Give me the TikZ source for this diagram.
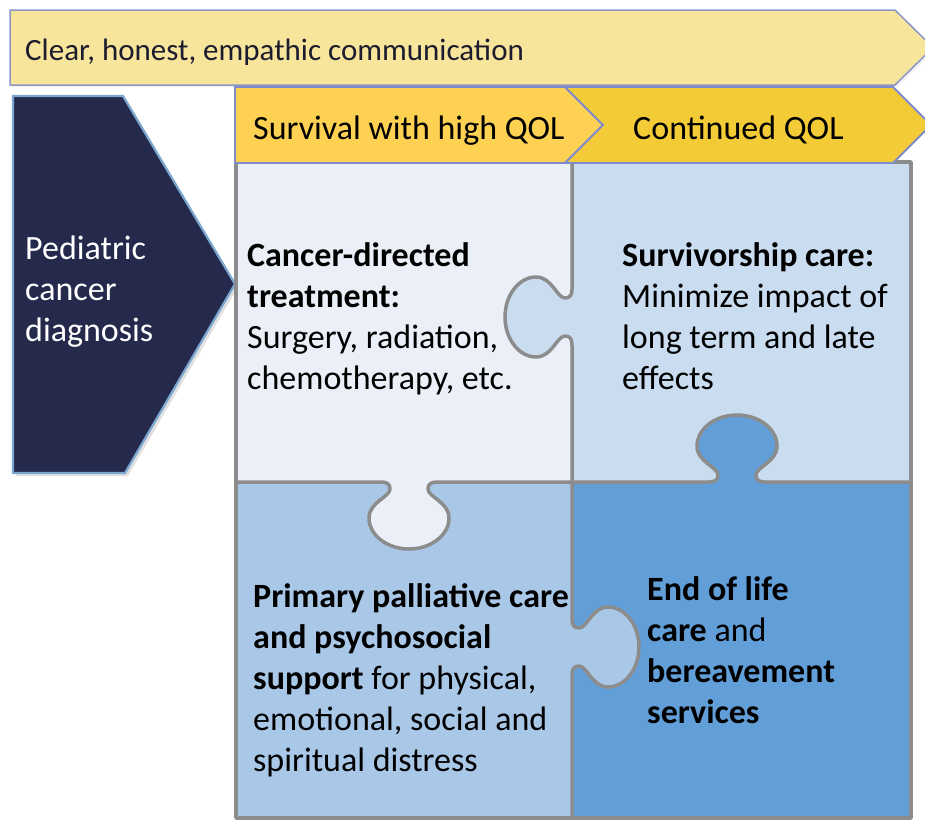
\documentclass[tikz,border=0pt]{standalone}
\usepackage{fontspec}
\setmainfont{Carlito}
\definecolor{bannerfill}{HTML}{F8E59C}
\definecolor{bannerline}{HTML}{8C96C8}
\definecolor{chevA}{HTML}{FFD152}
\definecolor{chevB}{HTML}{F2CB37}
\definecolor{chevline}{HTML}{7F8CCB}
\definecolor{darkfill}{HTML}{252A4D}
\definecolor{darkline}{HTML}{7AA6CF}
\definecolor{tlfill}{HTML}{EBF0F8}
\definecolor{trfill}{HTML}{C9DCF0}
\definecolor{blfill}{HTML}{A9C8E8}
\definecolor{brfill}{HTML}{629FD8}
\definecolor{gridgray}{HTML}{8C8C8C}
\definecolor{inktext}{HTML}{1C1C2E}
% knob on a horizontal edge (left to right): #1 centre x, #2 edge y, #3 outward sign
\newcommand{\hknob}[3]{%
 -- (#1-28,#2) .. controls (#1-22,#2) and (#1-19,#2+2*#3) .. (#1-19,#2+7*#3)
 .. controls (#1-19,#2+15*#3) and (#1-40,#2+20*#3) .. (#1-40,#2+36*#3)
 .. controls (#1-40,#2+53*#3) and (#1-22,#2+67*#3) .. (#1,#2+67*#3)
 .. controls (#1+22,#2+67*#3) and (#1+40,#2+53*#3) .. (#1+40,#2+36*#3)
 .. controls (#1+40,#2+20*#3) and (#1+19,#2+15*#3) .. (#1+19,#2+7*#3)
 .. controls (#1+19,#2+2*#3) and (#1+22,#2) .. (#1+28,#2)}
% knob on a vertical edge (top to bottom): #1 centre y, #2 edge x, #3 outward sign
\newcommand{\vknob}[3]{%
 -- (#2,#1-28) .. controls (#2,#1-22) and (#2+2*#3,#1-19) .. (#2+7*#3,#1-19)
 .. controls (#2+15*#3,#1-19) and (#2+20*#3,#1-40) .. (#2+36*#3,#1-40)
 .. controls (#2+53*#3,#1-40) and (#2+67*#3,#1-22) .. (#2+67*#3,#1)
 .. controls (#2+67*#3,#1+22) and (#2+53*#3,#1+40) .. (#2+36*#3,#1+40)
 .. controls (#2+20*#3,#1+40) and (#2+15*#3,#1+19) .. (#2+7*#3,#1+19)
 .. controls (#2+2*#3,#1+19) and (#2,#1+22) .. (#2,#1+28)}
\begin{document}
\begin{tikzpicture}[x=1pt,y=-1pt,
  txt/.style={inner sep=0pt,anchor=base west,text=black,font=\fontsize{34}{41}\selectfont},
  gridline/.style={draw=gridgray,line width=3.5pt,line join=round},
  chevst/.style={draw=chevline,line width=1.8pt,line join=miter}]
\useasboundingbox (0,0) rectangle (925,820);
\clip (0,0) rectangle (925,820);
\fill[white] (0,0) rectangle (925,820);

% top banner
\fill[black!25,opacity=0.2] (12,12) -- (897,12) -- (935,49.5) -- (897,87) -- (12,87) -- cycle;
\draw[fill=bannerfill,draw=bannerline,line width=1.5pt] (10,10) -- (895,10) -- (933,47.5) -- (895,85) -- (10,85) -- cycle;
\node[txt,text=inktext,font=\fontsize{31}{37}\selectfont] (banner) at (25,60) {Clear, honest, empathic communication};

% diagnosis pentagon
\fill[black!40,opacity=0.3] (16,99) -- (126,99) -- (238,287) -- (128,476) -- (16,476) -- cycle;
\draw[fill=darkfill,draw=darkline,line width=2.2pt] (13,96) -- (123,96) -- (235,284) -- (125,473) -- (13,473) -- cycle;
\node[txt,text=white] (diag1) at (25,259) {Pediatric};
\node[txt,text=white] (diag2) at (25,300) {cancer};
\node[txt,text=white] (diag3) at (25,341) {diagnosis};

% puzzle pieces
\fill[tlfill] (236,162) rectangle (572,482);
\fill[trfill] (572,162) rectangle (911,482);
\fill[blfill] (236,482) rectangle (572,818);
\fill[brfill] (572,482) rectangle (911,818);
\fill[trfill] (575,289) \vknob{317}{572}{-1} -- (575,345) -- cycle;
\fill[brfill] (709,485) \hknob{737}{482}{-1} -- (765,485) -- cycle;
\fill[tlfill] (381,479) \hknob{409}{482}{1} -- (437,479) -- cycle;
\fill[blfill] (569,619) \vknob{647}{572}{1} -- (569,675) -- cycle;
\draw[gridline] (236,482) \hknob{409}{482}{1} \hknob{737}{482}{-1} -- (911,482);
\draw[gridline] (572,162) \vknob{317}{572}{-1} \vknob{647}{572}{1} -- (572,818);
\draw[gridline] (236,162) rectangle (911,818);

% chevrons
\draw[chevst,fill=chevA] (235,87) -- (565,87) -- (603,125) -- (565,163) -- (235,163) -- cycle;
\draw[chevst,fill=chevB] (565,87) -- (893,87) -- (931,125) -- (893,163) -- (565,163) -- (603,125) -- cycle;
\node[txt] (phase1) at (253,139) {Survival with high QOL};
\node[txt] (phase2) at (633,139) {Continued QOL};

% top-left text
\node[txt] (tl1) at (247,266) {\textbf{Cancer-directed}};
\node[txt] (tl2) at (247,307) {\textbf{treatment:}};
\node[txt] (tl3) at (247,348) {Surgery, radiation,};
\node[txt] (tl4) at (247,389) {chemotherapy, etc.};
% top-right text
\node[txt] (tr1) at (622,266) {\textbf{Survivorship care:}};
\node[txt] (tr2) at (622,307) {Minimize impact of};
\node[txt] (tr3) at (622,348) {long term and late};
\node[txt] (tr4) at (622,389) {effects};
% bottom-left text
\node[txt] (bl1) at (253,607) {\textbf{Primary palliative care}};
\node[txt] (bl2) at (253,648) {\textbf{and psychosocial}};
\node[txt] (bl3) at (253,689) {\textbf{support} for physical,};
\node[txt] (bl4) at (253,730) {emotional, social and};
\node[txt] (bl5) at (253,771) {spiritual distress};
% bottom-right text
\node[txt] (br1) at (647,600) {\textbf{End of life}};
\node[txt] (br2) at (647,641) {\textbf{care} and};
\node[txt] (br3) at (647,682) {\textbf{bereavement}};
\node[txt] (br4) at (647,723) {\textbf{services}};
\end{tikzpicture}
\end{document}
